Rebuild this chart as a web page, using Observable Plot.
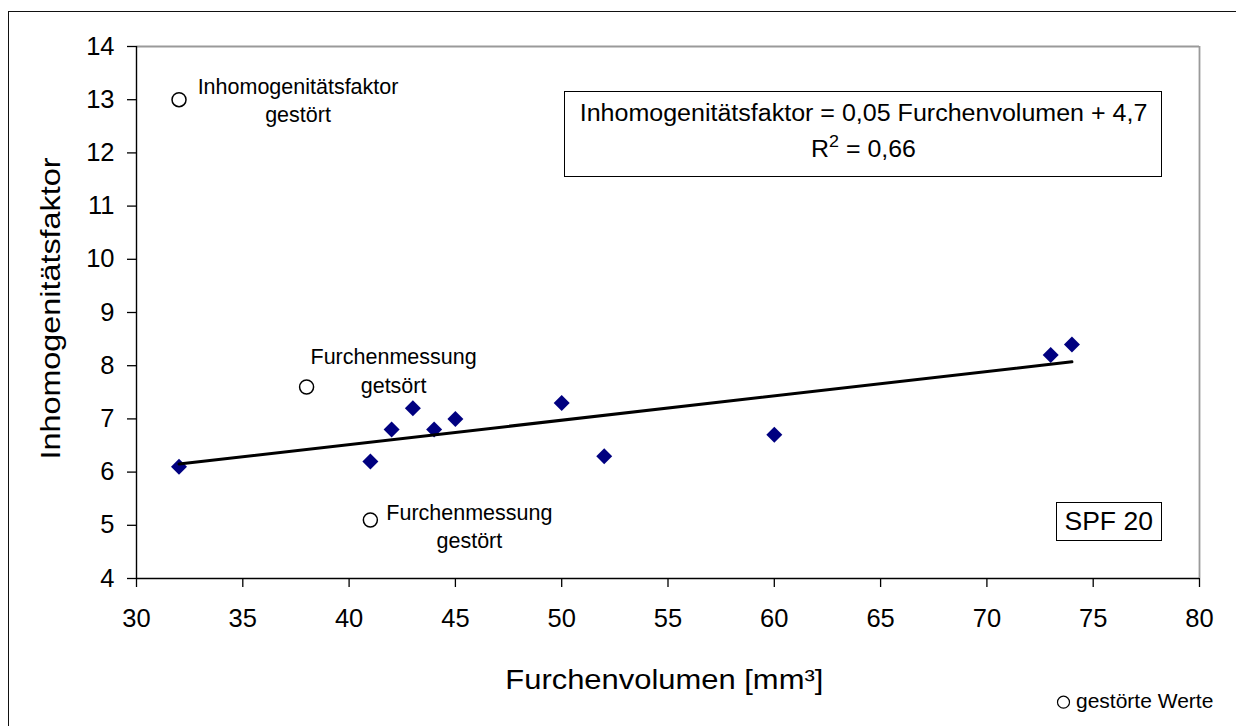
<!DOCTYPE html>
<html>
<head>
<meta charset="utf-8">
<script src="https://cdn.jsdelivr.net/npm/d3@7"></script>
<script src="https://cdn.jsdelivr.net/npm/@observablehq/plot@0.6"></script>
<style>
html, body { margin: 0; padding: 0; background: #fff; overflow: hidden; }
#wrap { position: relative; width: 1236px; height: 726px; font-family: "Liberation Sans", Arial, sans-serif; color: #000; }
#outer { position: absolute; left: 8px; top: 11px; width: 1400px; height: 900px; border: 1.5px solid #111; pointer-events: none; }
.box { position: absolute; box-sizing: border-box; border: 1.3px solid #000; background: #fff; text-align: center; }
.ln { position: absolute; left: 0; right: 0; white-space: nowrap; }
.ln span { display: inline-block; transform-origin: center; }
sup { font-size: 0.72em; line-height: 0; vertical-align: 0.62em; }
</style>
</head>
<body>
<div id="wrap"><div id="outer"></div></div>
<script>
// Data
const furchenvolumen = [32, 41, 42, 43, 44, 45, 50, 52, 60, 73, 74];
const inhomogenitaet = [6.1, 6.2, 6.8, 7.2, 6.8, 7.0, 7.3, 6.3, 6.7, 8.2, 8.4];

const gestoertX = [32, 38, 41];
const gestoertY = [13, 7.6, 5.1];
const gestoertLabel = ["Inhomogenitätsfaktor\ngestört", "Furchenmessung\ngetsört", "Furchenmessung\ngestört"];

const xTicks = [30, 35, 40, 45, 50, 55, 60, 65, 70, 75, 80];
const yTicks = [4, 5, 6, 7, 8, 9, 10, 11, 12, 13, 14];

const xTitle = "Furchenvolumen [mm³]";
const yTitle = "Inhomogenitätsfaktor";
const equationLine1 = "Inhomogenitätsfaktor = 0,05 Furchenvolumen + 4,7";
const equationR2 = "0,66";
const seriesLabel = "SPF 20";
const legendLabel = "gestörte Werte";

const points = furchenvolumen.map((x, i) => ({x, y: inhomogenitaet[i]}));
const outliers = gestoertX.map((x, i) => ({x, y: gestoertY[i], label: gestoertLabel[i]}));

// per-annotation label offsets (px)
const labelOffsets = [[119, -1], [87, -17.5], [99, 5]];

const annotationMarks = outliers.map((d, i) =>
  Plot.text([d], {x: "x", y: "y", text: "label", dx: labelOffsets[i][0], dy: labelOffsets[i][1],
    fontSize: 21.5, lineHeight: 1.33, textAnchor: "middle", fill: "#000"})
);

const chart = Plot.plot({
  width: 1236,
  height: 726,
  marginLeft: 136,
  marginRight: 37,
  marginTop: 46,
  marginBottom: 148,
  style: {fontFamily: "'Liberation Sans', Arial, sans-serif", background: "transparent", overflow: "visible", color: "#000"},
  x: {domain: [30, 80]},
  y: {domain: [4, 14]},
  marks: [
    Plot.ruleY([14], {stroke: "#9a9a9a", strokeWidth: 1.8}),
    Plot.ruleX([80], {stroke: "#9a9a9a", strokeWidth: 1.8}),
    Plot.axisX({ticks: xTicks, tickSize: 9, tickPadding: 21, fontSize: 25.5, strokeWidth: 1.3, label: null}),
    Plot.axisY({ticks: yTicks, tickSize: 9, tickPadding: 13, fontSize: 25.5, strokeWidth: 1.3, label: null}),
    Plot.ruleY([4], {stroke: "#000", strokeWidth: 1.4}),
    Plot.ruleX([30], {stroke: "#000", strokeWidth: 1.4}),
    Plot.dot(points, {x: "x", y: "y", symbol: "diamond2", r: 7.2, fill: "#000080", stroke: "none"}),
    Plot.linearRegressionY(points, {x: "x", y: "y", ci: 0, stroke: "#000", strokeWidth: 3}),
    Plot.dot(outliers, {x: "x", y: "y", r: 7, fill: "#fff", stroke: "#000", strokeWidth: 1.5}),
    ...annotationMarks,
    Plot.text([xTitle], {frameAnchor: "bottom", text: d => d, fontSize: 27, textAnchor: "middle", lineAnchor: "middle", dx: -3.7, dy: 101.5, fill: "#000", ariaDescription: "x-title"}),
    Plot.text([yTitle], {frameAnchor: "left", text: d => d, fontSize: 28.5, rotate: -90, textAnchor: "middle", lineAnchor: "middle", dx: -86, dy: -4, fill: "#000", ariaDescription: "y-title"}),
    Plot.dot([legendLabel], {frameAnchor: "bottom-right", r: 6, dx: -136, dy: 123.7, fill: "none", stroke: "#000", strokeWidth: 1.2}),
    Plot.text([legendLabel], {frameAnchor: "bottom-right", text: d => d, fontSize: 21, textAnchor: "start", lineAnchor: "middle", dx: -123.5, dy: 123, fill: "#000"})
  ]
});

const wrap = document.getElementById("wrap");
wrap.insertBefore(chart, wrap.firstChild);

// stretch axis titles to the widths seen in the reference
const xt = chart.querySelector('[aria-description="x-title"] text');
if (xt) { xt.setAttribute("textLength", 318); xt.setAttribute("lengthAdjust", "spacingAndGlyphs"); }
const yt = chart.querySelector('[aria-description="y-title"] text');
if (yt) { yt.setAttribute("textLength", 302); yt.setAttribute("lengthAdjust", "spacingAndGlyphs"); }

// Equation box
const eq = document.createElement("div");
eq.className = "box";
Object.assign(eq.style, {left: "564px", top: "91px", width: "598px", height: "86px", fontSize: "23.5px", lineHeight: "23.5px"});
eq.innerHTML = `<div class="ln" style="top:10px"><span style="transform:scaleX(1.065)">${equationLine1}</span></div>` +
  `<div class="ln" style="top:45.6px"><span style="transform:scaleX(1.06)">R<sup>2</sup> = ${equationR2}</span></div>`;
wrap.appendChild(eq);

// Series label box
const spf = document.createElement("div");
spf.className = "box";
Object.assign(spf.style, {left: "1056px", top: "502px", width: "106px", height: "39px", fontSize: "25px", lineHeight: "36.4px"});
spf.innerHTML = `<span style="display:inline-block;transform:scaleX(1.06)">${seriesLabel}</span>`;
wrap.appendChild(spf);
</script>
</body>
</html>
